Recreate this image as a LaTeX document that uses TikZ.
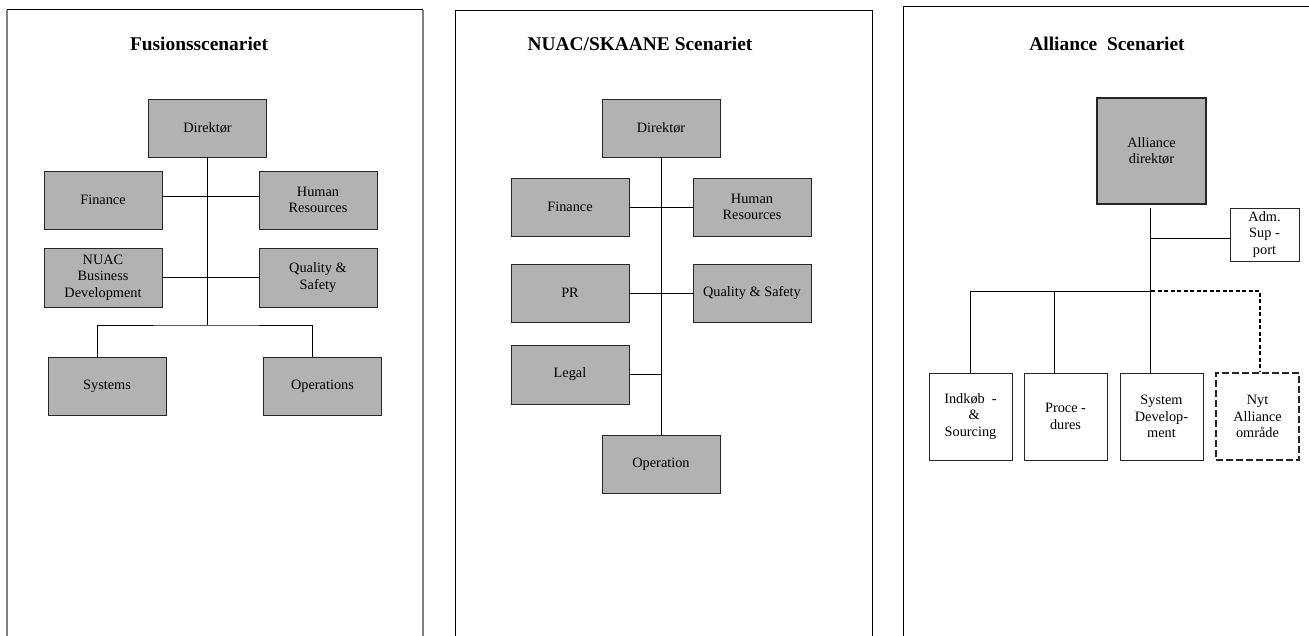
\documentclass[tikz,border=0pt]{standalone}
\usepackage{fontspec}
\setmainfont{Liberation Serif}
\usepackage{tikz}
\usetikzlibrary{positioning}

\begin{document}
\begin{tikzpicture}[x=1pt, y=-1pt,
  unit/.style={draw=black!85, rectangle, fill=black!30, minimum width=118pt, minimum height=58pt, align=center, inner sep=1pt, font=\fontsize{14.3}{16.5}\selectfont},
  small/.style={draw=black!85, rectangle, fill=white, minimum width=83pt, minimum height=87pt, align=center, inner sep=1pt, font=\fontsize{14.3}{16.5}\selectfont},
  heading/.style={font=\fontsize{19.4}{22}\selectfont\bfseries},
  link/.style={draw=black, line width=1pt}]
  \useasboundingbox (0,0) rectangle (1309,635);

  % frames
  \draw[gray, line width=1.2pt] (7,636) -- (7,9.5);
  \draw[gray, line width=1.2pt] (423,9.5) -- (423,636);
  \draw[line width=1pt] (7,9.5) -- (423,9.5);
  \draw[line width=1pt] (455,636) -- (455,10) -- (872,10) -- (872,636);
  \draw[line width=1pt] (903,636) -- (903,6) -- (1312,6);

  % Fusionsscenariet
  \node[heading] (ftitle) at (199,44) {Fusionsscenariet};
  \node[unit] (fdir) at (207.5,128) {Direktør};
  \node[unit] (ffin) at (103,200) {Finance};
  \node[unit] (fhr) at (318,200) {Human\\Resources};
  \node[unit, minimum height=59pt] (fnuac) at (103,277.5) {NUAC\\Business\\Development};
  \node[unit, minimum height=59pt] (fqs) at (318,277.5) {Quality \&\\Safety};
  \node[unit] (fsys) at (107,386) {Systems};
  \node[unit] (fops) at (322.5,386) {Operations};
  \coordinate (fbus) at (207.5,325);

  \draw[link] (fdir.south) -- (fbus);
  \draw[link] ([yshift=4pt]ffin.east) -- ([yshift=4pt]fhr.west);
  \draw[link] (fnuac.east) -- (fqs.west);
  \draw[link] ([xshift=-10pt]fsys.north) |- (fbus) -| ([xshift=-10pt]fops.north);

  % NUAC/SKAANE
  \node[heading] (ntitle) at (640,44) {NUAC/SKAANE Scenariet};
  \node[unit] (ndir) at (661,128) {Direktør};
  \node[unit] (nfin) at (570,207) {Finance};
  \node[unit] (nhr) at (752,207) {Human\\Resources};
  \node[unit] (npr) at (570,293) {PR};
  \node[unit] (nqs) at (752,293) {Quality \& Safety};
  \node[unit, minimum height=59pt] (nleg) at (570,374.5) {Legal};
  \node[unit] (nop) at (661,464) {Operation};

  \draw[link] (ndir.south) -- (nop.north);
  \draw[link] (nfin.east) -- (nhr.west);
  \draw[link] (npr.east) -- (nqs.west);
  \draw[link] (nleg.east) -- (nleg.east -| ndir.south);

  % Alliance
  \node[heading] (atitle) at (1107,44) {Alliance\ \ Scenariet};
  \node[unit, minimum width=109pt, minimum height=106pt, line width=1.3pt] (adir) at (1151.5,151) {Alliance\\direktør};
  \node[small, minimum width=69pt, minimum height=53pt] (adm) at (1264.5,234.5) {Adm.\\Sup -\\port};
  \node[small] (aind) at (970.5,416.5) {Indkøb\ \ -\\\ \ \&\\Sourcing};
  \node[small] (apro) at (1065.5,416.5) {Proce -\\dures};
  \node[small] (asys) at (1161.5,416.5) {System\\Develop-\\ment};
  \node[small, dash pattern=on 7pt off 3pt, line width=2pt] (anyt) at (1257.5,416.5) {Nyt\\Alliance\\område};
  \coordinate (abus) at (1150,291);

  \draw[link] ([xshift=-1.5pt, yshift=-3pt]adir.south) -- (asys.north -| abus);
  \draw[link] ([yshift=-3.5pt]adm.west) -- ([yshift=-3.5pt]adm.west -| abus);
  \draw[link] (aind.north) |- (abus);
  \draw[link] ([xshift=-11.5pt]apro.north) -- ([xshift=-11.5pt]apro.north |- abus);
  \draw[link, line width=2pt, dash pattern=on 4pt off 2.5pt] ([xshift=1pt]abus) -| ([xshift=2.5pt]anyt.north);
\end{tikzpicture}
\end{document}
